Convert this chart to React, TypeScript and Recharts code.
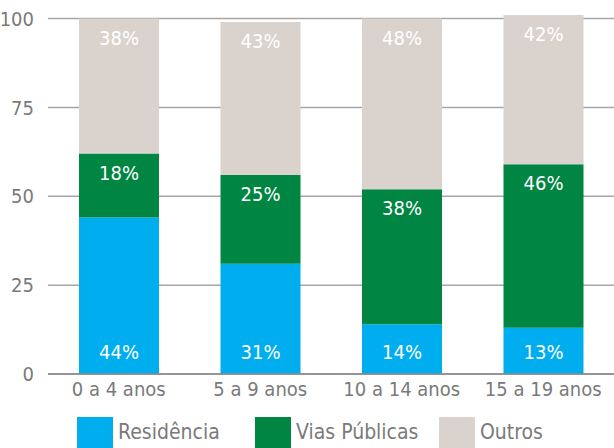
import { Bar, BarChart, CartesianGrid, LabelList, Legend, XAxis, YAxis } from "recharts";

const ageGroups = ["0 a 4 anos", "5 a 9 anos", "10 a 14 anos", "15 a 19 anos"];
const residencia = [44, 31, 14, 13];
const viasPublicas = [18, 25, 38, 46];
const outros = [38, 43, 48, 42];
const yTicks = [0, 25, 50, 75, 100];

const FONT = "'Liberation Sans Narrow', 'DejaVu Sans Condensed', 'Roboto', sans-serif";
const GREY_TEXT = "#7a7a7a";

const series = [
  { key: "residencia", name: "Residência", color: "#00aeef", at: "bottom" },
  { key: "vias", name: "Vias Públicas", color: "#008542", at: "top" },
  { key: "outros", name: "Outros", color: "#dad2cc", at: "top" },
];

const data = ageGroups.map((g, i) => ({
  group: g,
  residencia: residencia[i],
  vias: viasPublicas[i],
  outros: outros[i],
}));

function makeLabel(at: string) {
  return (props: any) => {
    const { x, y, width, height, value } = props;
    const cy = at === "bottom" ? y + height - 22 : y + 19;
    return (
      <text
        x={x + width / 2}
        y={cy}
        textAnchor="middle"
        dominantBaseline="central"
        fill="#ffffff"
        fontSize={20}
        fontFamily={FONT}
      >
        {`${value}%`}
      </text>
    );
  };
}

function LegendBox() {
  const offsets = [77, 255, 439];
  return (
    <div style={{ position: "relative", height: 40, fontFamily: FONT }}>
      {series.map((s, i) => (
        <div
          key={s.key}
          style={{ position: "absolute", left: offsets[i], top: 0, display: "flex", alignItems: "center" }}
        >
          <div style={{ width: 36, height: 31, background: s.color }} />
          <span style={{ marginLeft: 5, fontSize: 21, color: GREY_TEXT, lineHeight: "31px" }}>{s.name}</span>
        </div>
      ))}
    </div>
  );
}

export default function App() {
  return (
    <div style={{ position: "absolute", left: 0, top: 0, width: 614, height: 448, overflow: "hidden", background: "#fff" }}>
      <BarChart
        width={614}
        height={448}
        data={data}
        barSize={80}
        margin={{ top: 15, right: 0, left: 0, bottom: 0 }}
      >
        <CartesianGrid vertical={false} stroke="#a6a6a6" strokeWidth={1.5} syncWithTicks />
        <XAxis
          dataKey="group"
          tickLine={false}
          axisLine={{ stroke: "#888", strokeWidth: 1.5 }}
          tick={{ fill: GREY_TEXT, fontSize: 20, fontFamily: FONT }}
          tickMargin={2}
          height={34}
        />
        <YAxis
          width={48}
          domain={[0, 101]}
          ticks={yTicks}
          tickLine={false}
          axisLine={false}
          tick={{ fill: GREY_TEXT, fontSize: 20, fontFamily: FONT }}
          tickMargin={8}
          interval={0}
        />
        <Legend
          verticalAlign="bottom"
          content={() => <LegendBox />}
          wrapperStyle={{ left: 0, width: 614, bottom: -9 }}
        />
        {series.map((s) => (
          <Bar key={s.key} dataKey={s.key} name={s.name} stackId="a" fill={s.color} isAnimationActive={false}>
            <LabelList dataKey={s.key} content={makeLabel(s.at)} />
          </Bar>
        ))}
      </BarChart>
    </div>
  );
}
